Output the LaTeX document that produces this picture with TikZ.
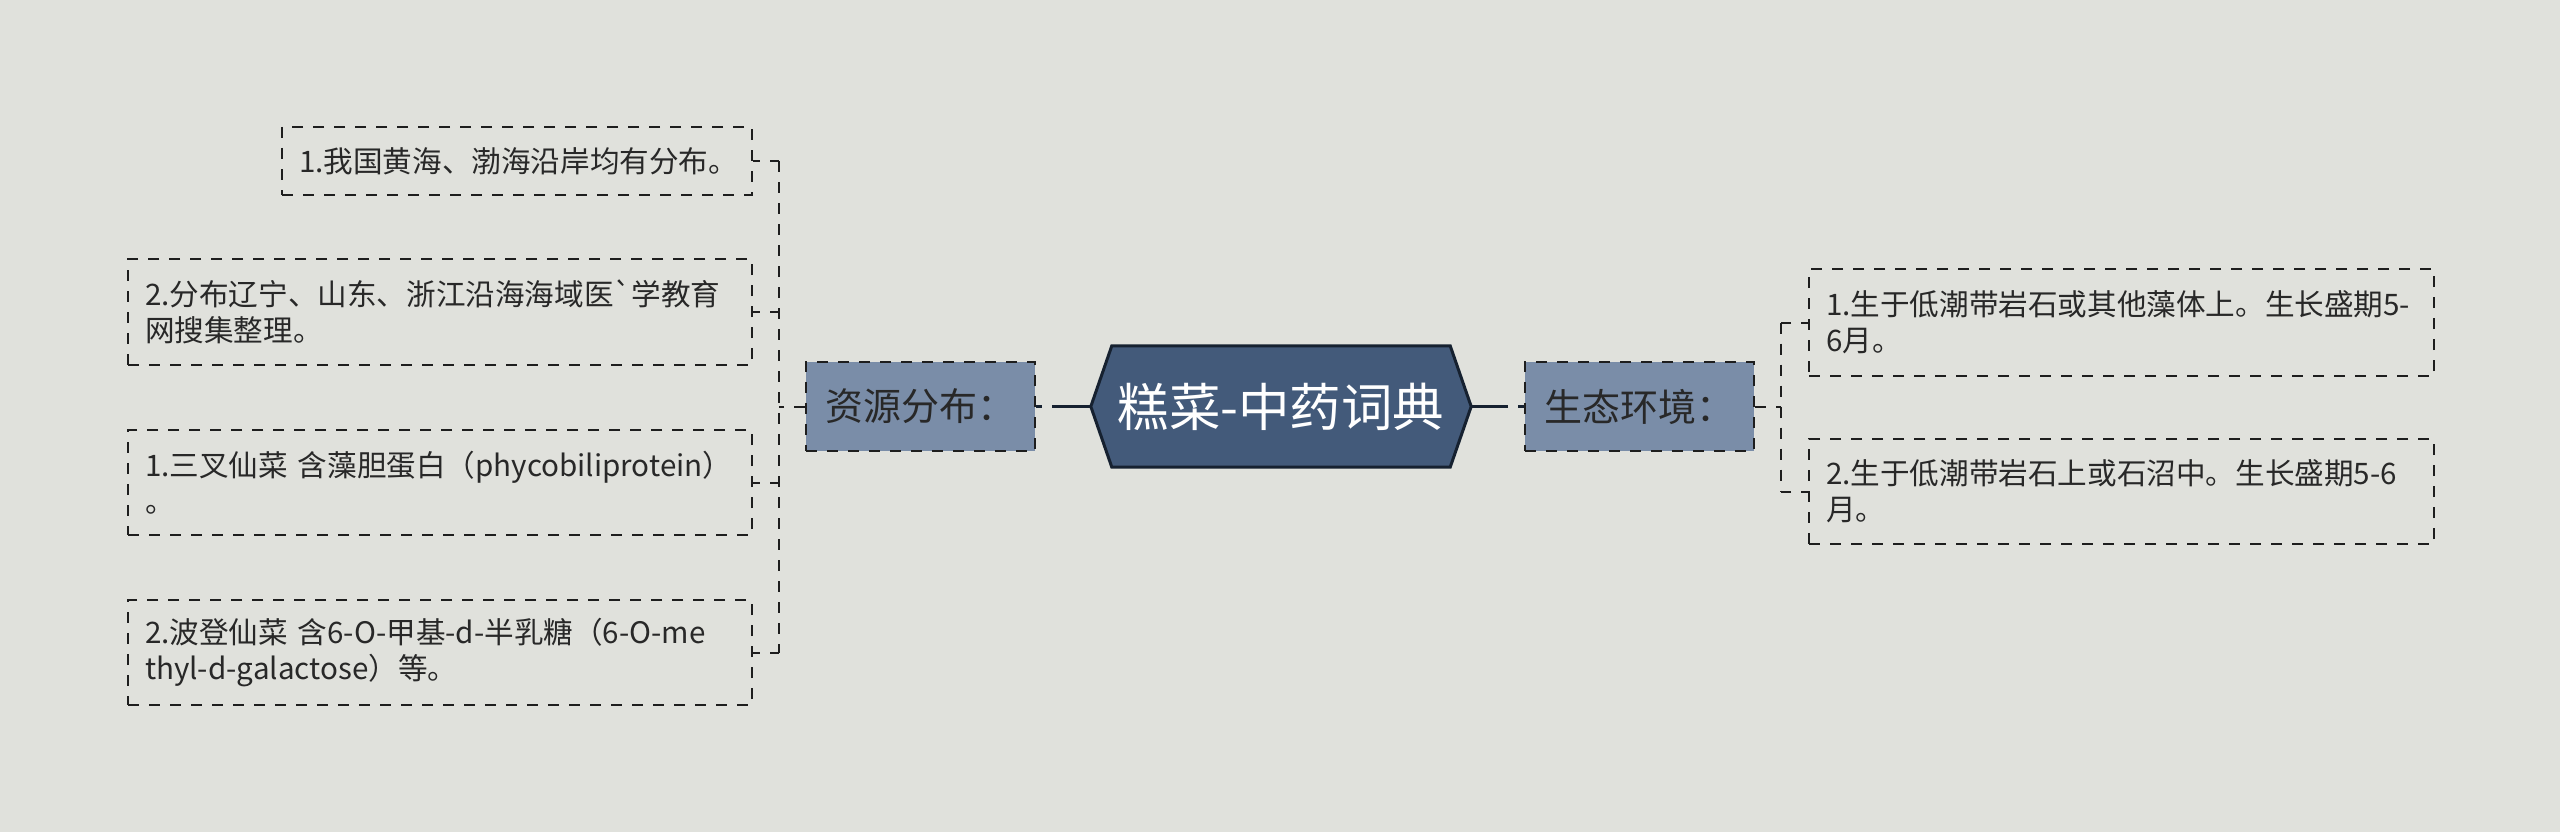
\documentclass[tikz,border=0pt]{standalone}
\usepackage{fontspec}
\setmainfont{Noto Sans CJK SC}
\newfontfamily\rawfont{Noto Sans CJK SC}
\usetikzlibrary{backgrounds,calc}
\definecolor{bgc}{RGB}{224,225,220}
\definecolor{hubfill}{RGB}{67,90,122}
\definecolor{hubline}{RGB}{22,33,48}
\definecolor{midfill}{RGB}{122,141,168}
\definecolor{ink}{RGB}{40,40,40}
\definecolor{lnc}{RGB}{30,30,30}
\begin{document}
\begin{tikzpicture}[x=1pt,y=-1pt,
  dsh/.style={dash pattern=on 11pt off 10pt},
  leaf/.style={draw=lnc, line width=2pt, dsh, anchor=north west, align=left,
    inner xsep=17pt, inner ysep=0pt, font=\fontsize{29.6}{36}\selectfont, text=ink},
  mid/.style={draw=lnc, fill=midfill, line width=2pt, dsh, minimum width=229pt,
    minimum height=89pt, font=\fontsize{38}{44}\selectfont, text=ink, inner sep=0pt},
  conn/.style={draw=lnc, line width=2pt, dsh},
  trunk/.style={draw=hubline, line width=3.5pt, dash pattern=on 6pt off 10pt on 90pt}
]
\useasboundingbox (0,0) rectangle (2560,832);
\begin{scope}[on background layer]
  \fill[bgc] (0,0) rectangle (2560,832);
\end{scope}

% central node
\node[font=\fontsize{51.5}{60}\selectfont, text=white, minimum width=380pt,
      minimum height=121pt, inner sep=0pt] (hub) at (1281,406.5) {糕菜-中药词典};
\begin{scope}[on background layer]
  \filldraw[fill=hubfill, draw=hubline, line width=3pt, line join=miter]
    (hub.west) -- ($(hub.north west)+(21,0)$) -- ($(hub.north east)+(-21,0)$)
    -- (hub.east) -- ($(hub.south east)+(-21,0)$) -- ($(hub.south west)+(21,0)$) -- cycle;
\end{scope}

% branch nodes
\node[mid] (res) at (920.5,406.5) {资源分布：};
\node[mid] (eco) at (1639.5,406.5) {生态环境：};

% left leaves
\node[leaf, text width=436pt, minimum height=68pt] (L1) at (281,126)
  {1.我国黄海、渤海沿岸均有分布。};
\node[leaf, text width=590pt, minimum height=106pt] (L2) at (127,258)
  {2.分布辽宁、山东、浙江沿海海域医{\rawfont`}学教育\\网搜集整理。};
\node[leaf, text width=590pt, minimum height=105pt] (L3) at (127,429)
  {1.三叉仙菜~含藻胆蛋白（phycobiliprotein）\\。};
\node[leaf, text width=590pt, minimum height=105pt] (L4) at (127,599)
  {2.波登仙菜~含6-O-甲基-d-半乳糖（6-O-me\\thyl-d-galactose）等。};

% right leaves
\node[leaf, text width=591pt, minimum height=107pt] (R1) at (1808,268)
  {1.生于低潮带岩石或其他藻体上。生长盛期5-\\6月。};
\node[leaf, text width=591pt, minimum height=105pt] (R2) at (1808,438)
  {2.生于低潮带岩石上或石沼中。生长盛期5-6\\月。};

% trunk connectors
\draw[trunk] (res.east) -- (hub.west);
\draw[trunk] (eco.west) -- (hub.east);

% left branch
\coordinate (lj) at (779,406.5);
\draw[conn] (res.west) -- (lj);
\draw[conn] (L1.east -| lj) -- (L4.east -| lj);
\foreach \n in {L1,L2,L3,L4} \draw[conn, dash phase=4pt] (\n.east) -- (\n.east -| lj);

% right branch
\coordinate (rj) at (1781,406.5);
\draw[conn] (eco.east) -- (rj);
\draw[conn] (R1.west -| rj) -- (R2.west -| rj);
\foreach \n in {R1,R2} \draw[conn, dash phase=4pt] (\n.west) -- (\n.west -| rj);
\end{tikzpicture}
\end{document}
